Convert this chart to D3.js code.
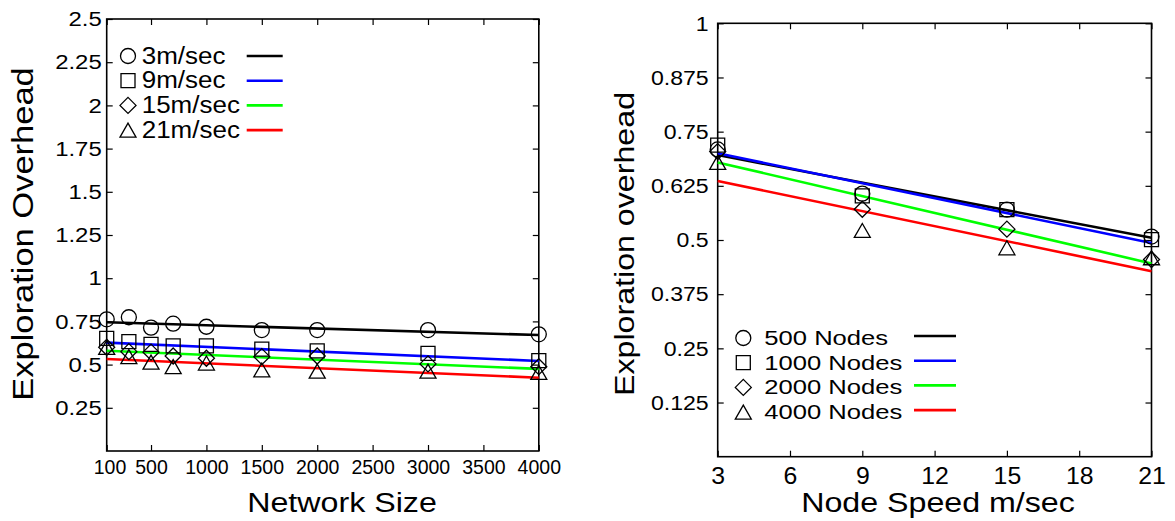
<!DOCTYPE html>
<html><head><meta charset="utf-8">
<script src="https://cdn.jsdelivr.net/npm/d3@7"></script>
<style>
body{margin:0;background:#fff;}
svg{display:block;font-family:"Liberation Sans",Arial,Helvetica,sans-serif;}
</style></head>
<body><svg id="c" width="1175" height="521"></svg>
<script>
// ---------- DATA ----------
const networkSizes = [100, 300, 500, 700, 1000, 1500, 2000, 3000, 4000];
const speedLabels = ["3m/sec", "9m/sec", "15m/sec", "21m/sec"];
const speed3  = [0.762, 0.774, 0.714, 0.737, 0.719, 0.700, 0.700, 0.700, 0.675];
const speed9  = [0.652, 0.633, 0.617, 0.608, 0.608, 0.589, 0.580, 0.565, 0.523];
const speed15 = [0.600, 0.575, 0.572, 0.550, 0.537, 0.546, 0.550, 0.504, 0.488];
const speed21 = [0.600, 0.546, 0.514, 0.488, 0.509, 0.469, 0.462, 0.462, 0.455];
// fitted trend lines (value at first and last network size)
const fitSpeed3  = [0.745, 0.671];
const fitSpeed9  = [0.627, 0.521];
const fitSpeed15 = [0.580, 0.475];
const fitSpeed21 = [0.532, 0.424];
const leftYTicks = [0.25, 0.5, 0.75, 1, 1.25, 1.5, 1.75, 2, 2.25, 2.5];
const leftXTicks = [100, 500, 1000, 1500, 2000, 2500, 3000, 3500, 4000];

const nodeSpeeds = [3, 9, 15, 21];
const nodeLabels = ["500 Nodes", "1000 Nodes", "2000 Nodes", "4000 Nodes"];
const nodes500  = [0.709, 0.607, 0.570, 0.508];
const nodes1000 = [0.719, 0.602, 0.570, 0.501];
const nodes2000 = [0.704, 0.571, 0.525, 0.455];
const nodes4000 = [0.679, 0.522, 0.482, 0.459];
const fitNodes500  = [0.696, 0.505];
const fitNodes1000 = [0.700, 0.493];
const fitNodes2000 = [0.679, 0.446];
const fitNodes4000 = [0.636, 0.428];
const rightYTicks = [0.125, 0.25, 0.375, 0.5, 0.625, 0.75, 0.875, 1];
const rightXTicks = [3, 6, 9, 12, 15, 18, 21];

// ---------- STYLE ----------
const colors = ["#000000", "#0000ff", "#00ff00", "#ff0000"];
const shapes = ["circle", "square", "diamond", "triangle"];
const svg = d3.select("#c");

function shapePath(kind) {
  const p = d3.path();
  if (kind === "circle") { p.arc(0, 0, 7.5, 0, 2 * Math.PI); }
  else if (kind === "square") { p.rect(-7, -7, 14, 14); }
  else if (kind === "diamond") { p.moveTo(0, -8); p.lineTo(8, 0); p.lineTo(0, 8); p.lineTo(-8, 0); p.closePath(); }
  else { p.moveTo(0, -7); p.lineTo(8, 7); p.lineTo(-8, 7); p.closePath(); }
  return p.toString();
}

function addText(g, x, y, s, size, sx, anchor, rot) {
  g.append("text")
    .attr("transform", `translate(${x},${y})${rot ? ` rotate(${rot})` : ""} scale(${sx},1)`)
    .attr("text-anchor", anchor)
    .style("font-size", size + "px")
    .attr("fill", "#000")
    .text(s);
}

function panel(cfg) {
  const g = svg.append("g");
  const x = d3.scaleLinear().domain(cfg.xDomain).range(cfg.xRange);
  const y = d3.scaleLinear().domain(cfg.yDomain).range(cfg.yRange);
  const [x0, x1] = cfg.xRange, [y0, y1] = cfg.yRange;

  const bottom = g.append("g").attr("transform", `translate(0,${y0})`)
    .call(d3.axisBottom(x).tickValues(cfg.xTicks).tickSizeInner(-6).tickSizeOuter(0).tickPadding(cfg.xPad).tickFormat(d3.format("d")));
  const top = g.append("g").attr("transform", `translate(0,${y1})`)
    .call(d3.axisTop(x).tickValues(cfg.xTicks).tickSizeInner(-6).tickSizeOuter(0).tickFormat(""));
  const left = g.append("g").attr("transform", `translate(${x0},0)`)
    .call(d3.axisLeft(y).tickValues(cfg.yTicks).tickSizeInner(-6).tickSizeOuter(0).tickFormat(d => String(+d.toFixed(3))));
  const right = g.append("g").attr("transform", `translate(${x1},0)`)
    .call(d3.axisRight(y).tickValues(cfg.yTicks).tickSizeInner(-6).tickSizeOuter(0).tickFormat(""));
  [bottom, top, left, right].forEach(a => {
    a.select(".domain").remove();
    a.selectAll("line").attr("stroke", "#000").attr("stroke-width", 1.2);
    a.selectAll("text").attr("fill", "#000").style("font-family", "inherit");
  });
  bottom.selectAll("text").style("font-size", cfg.xFont + "px")
    .attr("transform", `scale(${cfg.xSx},1)`);
  bottom.selectAll(".tick").each(function (d) {
    if (cfg.xShift && cfg.xShift[d] !== undefined)
      d3.select(this).select("text").attr("x", cfg.xShift[d]);
  });
  left.selectAll("text").style("font-size", cfg.yFont + "px")
    .attr("text-anchor", "end")
    .attr("transform", `scale(${cfg.ySx},1)`)
    .attr("x", -cfg.yPad / cfg.ySx);

  // frame
  g.append("rect").attr("x", x0).attr("y", y1).attr("width", x1 - x0).attr("height", y0 - y1)
    .attr("fill", "none").attr("stroke", "#000").attr("stroke-width", 1.6);

  // fit lines
  cfg.fits.forEach((f, i) => {
    g.append("line")
      .attr("x1", x(cfg.xDomain[0])).attr("y1", y(f[0]))
      .attr("x2", x(cfg.xDomain[1])).attr("y2", y(f[1]))
      .attr("stroke", colors[i]).attr("stroke-width", 2.6);
  });
  // points
  cfg.series.forEach((s, i) => {
    g.selectAll(null).data(s).enter().append("path")
      .attr("d", shapePath(shapes[i]))
      .attr("transform", (d, j) => `translate(${x(cfg.xs[j])},${y(d)})`)
      .attr("fill", "none").attr("stroke", "#000").attr("stroke-width", 1.3);
  });

  // legend
  const L = cfg.legend;
  cfg.labels.forEach((lab, i) => {
    const ry = L.y + i * L.dy;
    g.append("path").attr("d", shapePath(shapes[i]))
      .attr("transform", `translate(${L.mx},${ry + L.mOff})`)
      .attr("fill", "none").attr("stroke", "#000").attr("stroke-width", 1.3);
    addText(g, L.tx, ry + L.base, lab, L.size, L.sx, "start");
    g.append("line").attr("x1", L.l1).attr("x2", L.l2).attr("y1", ry).attr("y2", ry)
      .attr("stroke", colors[i]).attr("stroke-width", 2.6);
  });

  // titles
  const T = cfg.xTitle, U = cfg.yTitle;
  addText(g, T.x, T.y, T.text, T.size, T.sx, "middle");
  addText(g, U.x, U.y, U.text, U.size, U.sx, "middle", -90);
}

panel({
  xDomain: [100, 4000], xRange: [106.7, 538.8],
  yDomain: [0, 2.5], yRange: [451, 19],
  xTicks: leftXTicks, yTicks: leftYTicks,
  xPad: 8, xFont: 21, xSx: 0.93, xShift: {100: 3},
  yFont: 21, ySx: 1.14, yPad: 5,
  xs: networkSizes,
  series: [speed3, speed9, speed15, speed21],
  fits: [fitSpeed3, fitSpeed9, fitSpeed15, fitSpeed21],
  labels: speedLabels,
  legend: {y: 56, dy: 24.7, mx: 128, mOff: 0, tx: 141.7, base: 7.5, size: 23, sx: 1.13, l1: 246.7, l2: 282.7},
  xTitle: {x: 342, y: 512, text: "Network Size", size: 28, sx: 1.15},
  yTitle: {x: 33, y: 234, text: "Exploration Overhead", size: 30, sx: 1.15}
});

panel({
  xDomain: [3, 21], xRange: [717.7, 1151.5],
  yDomain: [0, 1], yRange: [456.7, 23.3],
  xTicks: rightXTicks, yTicks: rightYTicks,
  xPad: 11, xFont: 23, xSx: 1.08,
  yFont: 21, ySx: 1.1, yPad: 9,
  xs: nodeSpeeds,
  series: [nodes500, nodes1000, nodes2000, nodes4000],
  fits: [fitNodes500, fitNodes1000, fitNodes2000, fitNodes4000],
  labels: nodeLabels,
  legend: {y: 336, dy: 24.7, mx: 743.3, mOff: 2, tx: 764.3, base: 9, size: 21, sx: 1.22, l1: 914, l2: 956},
  xTitle: {x: 938, y: 512, text: "Node Speed m/sec", size: 28, sx: 1.15},
  yTitle: {x: 634, y: 244, text: "Exploration overhead", size: 28, sx: 1.15}
});
</script></body></html>
